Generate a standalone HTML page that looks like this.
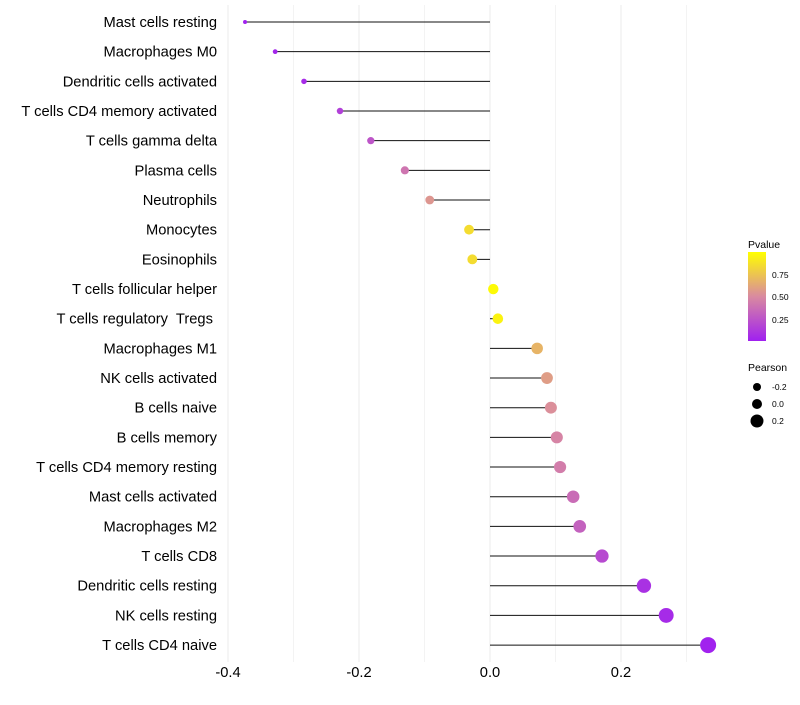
<!DOCTYPE html>
<html><head><meta charset="utf-8"><style>
body{margin:0;background:#fff;font-family:"Liberation Sans",sans-serif}
text{white-space:pre}
</style></head><body>
<svg id="c" width="800" height="700" xmlns="http://www.w3.org/2000/svg" font-family="Liberation Sans, sans-serif">
<defs><linearGradient id="pg" x1="0" y1="1" x2="0" y2="0">
<stop offset="0" stop-color="#a020f0"/><stop offset="0.5" stop-color="#d98aa0"/><stop offset="1" stop-color="#ffff00"/></linearGradient></defs>
<g id="grid"></g><g id="marks"></g><g id="labels"></g>
<g>
<text x="748" y="248" font-size="10.5">Pvalue</text>
<rect x="748" y="252" width="18" height="89" fill="url(#pg)"/>
<text x="772" y="278" font-size="8.5">0.75</text>
<text x="772" y="300" font-size="8.5">0.50</text>
<text x="772" y="323" font-size="8.5">0.25</text>
</g>
<g>
<text x="748" y="371" font-size="10.5">Pearson</text>
<circle cx="757" cy="387" r="4"/><text x="772" y="390" font-size="8.5">-0.2</text>
<circle cx="757" cy="404" r="5"/><text x="772" y="407" font-size="8.5">0.0</text>
<circle cx="757" cy="421" r="6.5"/><text x="772" y="424" font-size="8.5">0.2</text>
</g>
</svg>
<script>
const categories=["Mast cells resting","Macrophages M0","Dendritic cells activated","T cells CD4 memory activated","T cells gamma delta","Plasma cells","Neutrophils","Monocytes","Eosinophils","T cells follicular helper","T cells regulatory  Tregs ","Macrophages M1","NK cells activated","B cells naive","B cells memory","T cells CD4 memory resting","Mast cells activated","Macrophages M2","T cells CD8","Dendritic cells resting","NK cells resting","T cells CD4 naive"];
const pearson=[-0.374,-0.328,-0.284,-0.229,-0.182,-0.130,-0.092,-0.032,-0.027,0.005,0.012,0.072,0.087,0.093,0.102,0.107,0.127,0.137,0.171,0.235,0.269,0.333];
const pvalue=[0.01,0.03,0.05,0.15,0.25,0.4,0.55,0.85,0.85,0.98,0.95,0.68,0.58,0.52,0.47,0.44,0.36,0.31,0.2,0.08,0.05,0.01];
const ticks=[-0.4,-0.2,0.0,0.2];
const NS="http://www.w3.org/2000/svg";
const X=v=>490+v*655, Y=i=>22+i*29.67;
const R=v=>2+(v+0.374)/0.707*6;
function col(p){const a=[160,32,240],m=[217,138,160],b=[255,255,0];let s,e,t;if(p<0.5){s=a;e=m;t=p/0.5}else{s=m;e=b;t=(p-0.5)/0.5}
return `rgb(${s.map((c,k)=>Math.round(c+(e[k]-c)*t)).join(",")})`;}
function mk(t,at,parent){const e=document.createElementNS(NS,t);for(const k in at)e.setAttribute(k,at[k]);document.getElementById(parent).appendChild(e);return e;}
for(let v=-0.4;v<=0.31;v+=0.1){const g=mk("line",{x1:X(v),x2:X(v),y1:5,y2:662,stroke:"#ebebeb","stroke-width":Math.abs(Math.round(v*10))%2==0?1:0.6},"grid");

}
ticks.forEach(t=>{const e=mk("text",{x:X(t),y:677,"font-size":14.7,"text-anchor":"middle",fill:"#000"},"labels");e.textContent=t.toFixed(1);

});
categories.forEach((c,i)=>{
const t=mk("text",{x:217,y:Y(i)+5,"font-size":14.7,"text-anchor":"end",fill:"#000"},"labels");t.textContent=c;


const l=mk("line",{x1:X(0),x2:X(pearson[i]),y1:Y(i),y2:Y(i),stroke:"#111","stroke-width":1},"marks");


const d=mk("circle",{cx:X(pearson[i]),cy:Y(i),r:R(pearson[i]),fill:col(pvalue[i])},"marks");


});
</script>
</body></html>
